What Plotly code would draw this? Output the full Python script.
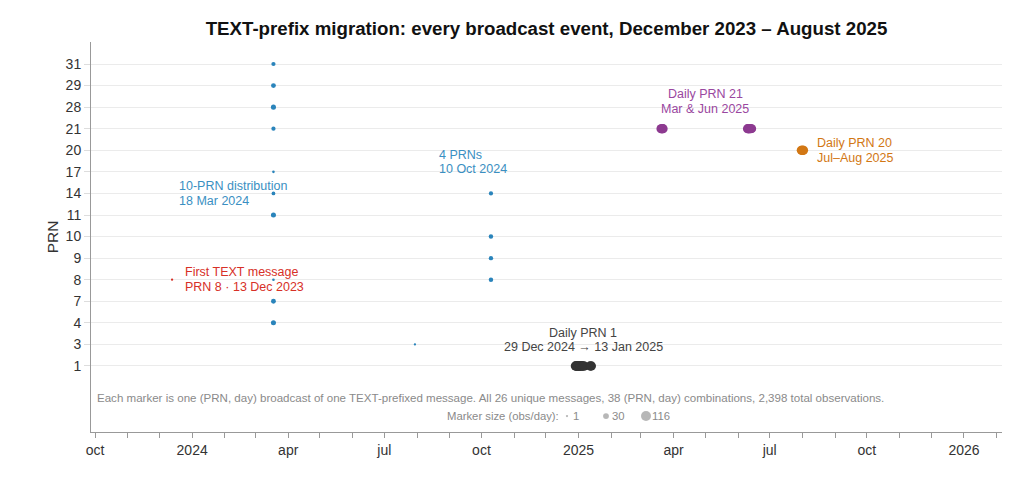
import numpy as np
import pandas as pd
import plotly.graph_objects as go

# ---------------- data ----------------
prn_categories = [1, 3, 4, 7, 8, 9, 10, 11, 14, 17, 20, 21, 28, 29, 31]

first_dates = ["2023-12-13"]
first_prns = [8]
first_obs = [1]

blue_dates = ["2024-03-18"] * 10 + ["2024-07-30"] + ["2024-10-10"] * 4
blue_prns = [31, 29, 28, 21, 17, 14, 11, 8, 7, 4, 3, 14, 10, 9, 8]
blue_obs = [12, 18, 20, 12, 2, 8, 20, 2, 18, 20, 1, 12, 14, 13, 14]

prn1_dates = ["2024-12-29", "2024-12-30", "2024-12-31", "2025-01-01", "2025-01-02",
              "2025-01-03", "2025-01-04", "2025-01-05", "2025-01-06", "2025-01-12", "2025-01-13"]
prn1_obs = [98, 112, 108, 116, 104, 110, 96, 102, 107, 100, 102]

prn21_dates = ["2025-03-20", "2025-03-21", "2025-03-22",
               "2025-06-10", "2025-06-11", "2025-06-12", "2025-06-13", "2025-06-14"]
prn21_obs = [92, 101, 95, 96, 99, 94, 97, 86]

prn20_dates = ["2025-07-31", "2025-08-01", "2025-08-02"]
prn20_obs = [98, 102, 96]

legend_sizes = [1, 30, 116]

month_ticks = pd.date_range("2023-10-01", "2026-02-01", freq="MS")
tick_labels = [str(d.year) if d.month == 1 else (d.strftime("%b").lower() if d.month in (4, 7, 10) else "")
               for d in month_ticks]

# ---------------- styling ----------------
FONT = "Liberation Sans, Arial, Helvetica, sans-serif"
C_RED = "#d73027"
C_BLUE = "#2a84bb"
C_DARK = "#333333"
C_PURPLE = "#8d3a90"
C_ORANGE = "#d27714"
C_GREY = "#8a8a8a"

X_RANGE = [pd.Timestamp("2023-09-27 05:00"), pd.Timestamp("2026-02-06 00:00")]
Y_RANGE = [-3.06, 15.02]


def yidx(prns):
    return [prn_categories.index(p) for p in prns]


def msize(obs):
    return list(1.5 + 0.79 * np.sqrt(np.asarray(obs, dtype=float)))


def frac_to_date(f):
    return X_RANGE[0] + (X_RANGE[1] - X_RANGE[0]) * f


fig = go.Figure()


def add_series(dates, prns, obs, color):
    fig.add_trace(go.Scatter(
        x=pd.to_datetime(dates), y=yidx(prns), mode="markers",
        marker=dict(size=msize(obs), color=color, line=dict(width=0), opacity=1),
        showlegend=False, hoverinfo="skip", cliponaxis=False))


add_series(first_dates, first_prns, first_obs, C_RED)
add_series(blue_dates, blue_prns, blue_obs, C_BLUE)
add_series(prn1_dates, [1] * len(prn1_dates), prn1_obs, C_DARK)
add_series(prn21_dates, [21] * len(prn21_dates), prn21_obs, C_PURPLE)
add_series(prn20_dates, [20] * len(prn20_dates), prn20_obs, C_ORANGE)

# size legend markers
leg_fracs = [(567 - 91) / 911, (606 - 91) / 911, (646 - 91) / 911]
fig.add_trace(go.Scatter(
    x=[frac_to_date(f) for f in leg_fracs], y=[-2.32] * 3, mode="markers",
    marker=dict(size=msize(legend_sizes), color="#999999", line=dict(width=0)),
    showlegend=False, hoverinfo="skip", cliponaxis=False))

annotations = []
LINE = 14.5


def label(x, y, lines, color, xanchor="left", xshift=0, yshift=0, size=12.5):
    n = len(lines)
    for i, t in enumerate(lines):
        off = ((n - 1) / 2 - i) * LINE
        annotations.append(dict(
            x=x, y=y, xref="x", yref="y", text=t, showarrow=False,
            xanchor=xanchor, yanchor="middle", xshift=xshift, yshift=yshift + off,
            font=dict(family=FONT, size=size, color=color)))


label(pd.Timestamp(first_dates[0]), yidx([8])[0], ["First TEXT message", "PRN 8 · 13 Dec 2023"],
      C_RED, xshift=11)
label(pd.Timestamp("2024-03-18"), yidx([14])[0], ["10-PRN distribution", "18 Mar 2024"],
      "#3a8fc2", xshift=-96)
label(pd.Timestamp("2024-10-10"), yidx([17])[0], ["4 PRNs", "10 Oct 2024"],
      "#3a8fc2", xshift=-54, yshift=10)
label(pd.Timestamp("2025-01-05 12:00"), yidx([1])[0], ["Daily PRN 1", "29 Dec 2024 → 13 Jan 2025"],
      "#444444", xanchor="center", yshift=26)
label(pd.Timestamp("2025-05-01"), yidx([21])[0], ["Daily PRN 21", "Mar & Jun 2025"],
      "#9a47a0", xanchor="center", yshift=27)
label(pd.Timestamp("2025-08-01"), yidx([20])[0], ["Daily PRN 20", "Jul–Aug 2025"],
      C_ORANGE, xshift=13)

annotations.append(dict(
    x=(95 - 91) / 911, y=-1.48, xref="paper", yref="y", xanchor="left", yanchor="middle",
    text="Each marker is one (PRN, day) broadcast of one TEXT-prefixed message. "
         "All 26 unique messages, 38 (PRN, day) combinations, 2,398 total observations.",
    showarrow=False, font=dict(family=FONT, size=11.55, color=C_GREY)))
annotations.append(dict(
    x=(561 - 91) / 911, y=-2.32, xref="paper", yref="y", xanchor="right", yanchor="middle",
    text="Marker size (obs/day):", showarrow=False, font=dict(family=FONT, size=11.3, color=C_GREY)))
for f, v in zip(leg_fracs, legend_sizes):
    annotations.append(dict(
        x=f, y=-2.32, xref="paper", yref="y", xanchor="left", yanchor="middle",
        xshift=3.5, text=str(v), showarrow=False,
        font=dict(family=FONT, size=11.3, color=C_GREY)))

fig.update_layout(
    width=1024, height=481,
    margin=dict(l=91, r=22, t=42, b=49),
    paper_bgcolor="white", plot_bgcolor="white",
    font=dict(family=FONT, color="#333333"),
    title=dict(
        text="<b>TEXT-prefix migration: every broadcast event, December 2023 – August 2025</b>",
        x=(91 + 1002) / 2 / 1024, xanchor="center", y=1 - 28 / 481, yanchor="middle",
        font=dict(family=FONT, size=18.7, color="#111111")),
    annotations=annotations,
    showlegend=False,
)

fig.update_xaxes(
    type="date", range=X_RANGE,
    tickmode="array", tickvals=month_ticks, ticktext=tick_labels,
    showgrid=False, zeroline=False,
    showline=True, linecolor="#999999", linewidth=1,
    ticks="outside", ticklen=5, tickcolor="#999999", tickwidth=1,
    tickfont=dict(family=FONT, size=14, color="#333333"),
)
fig.update_yaxes(
    range=Y_RANGE, tickmode="array",
    tickvals=list(range(len(prn_categories))), ticktext=[str(p) for p in prn_categories],
    showgrid=True, gridcolor="#ebebeb", gridwidth=1, zeroline=False,
    showline=True, linecolor="#999999", linewidth=1,
    ticks="outside", ticklen=6, tickcolor="#dddddd",
    tickfont=dict(family=FONT, size=14, color="#333333"),
    title=dict(text="PRN", font=dict(family=FONT, size=15.5, color="#333333"), standoff=3),
)

fig.write_html("out.html")
